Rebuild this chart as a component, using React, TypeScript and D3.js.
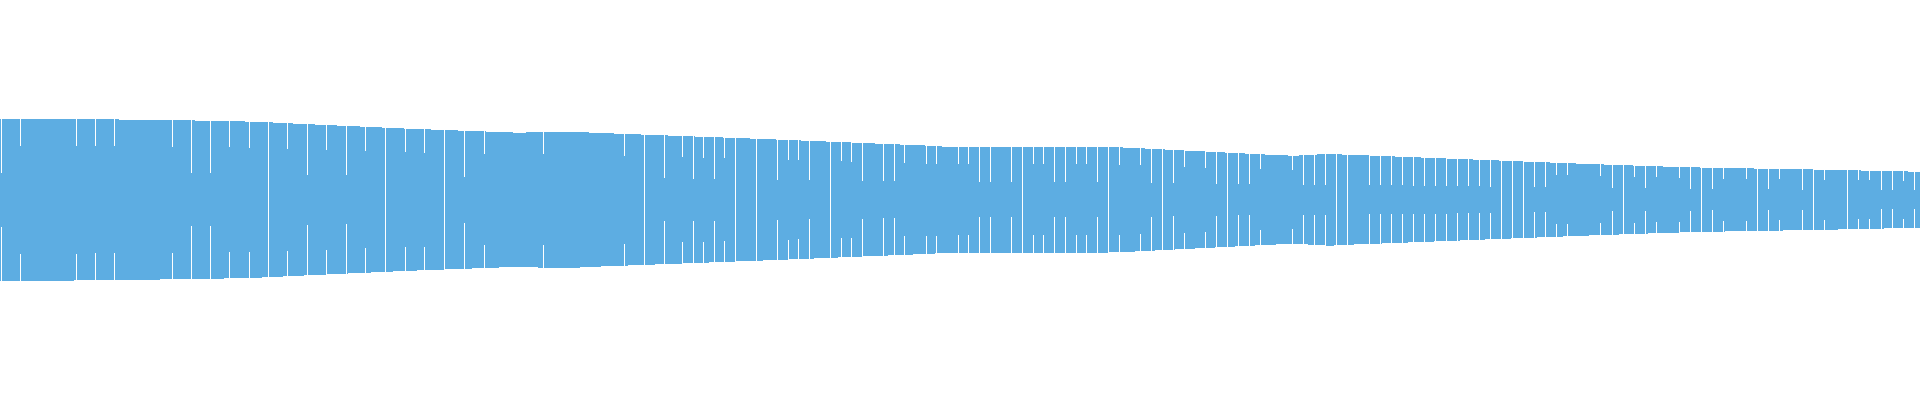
import React, { useEffect, useRef } from 'react';
import * as d3 from 'd3';

// envelope of the band: position along x and half-height (amplitude) read at that position
const envelopeAt = [0, 51, 142, 213, 256, 278, 298, 410, 520, 544, 575, 594, 783, 931, 945, 1100, 1130, 1270, 1294, 1313, 1330, 1346, 1376, 1582, 1670, 1710, 1769, 1827, 1872, 1920];
const envelope = [81, 81, 80, 79, 78, 77, 76, 71, 67, 68, 68, 67, 60, 54, 53, 53, 52, 45, 44, 45, 46, 45, 44, 36, 33, 32, 31, 30, 29, 28];

// boundaries between segments and the level of each (1 = outer ring, 2 = middle, 3 = through the core)
const splitAt = [
  1, 20, 76, 95, 114, 172, 191, 210, 229, 249, 268, 287, 307, 326, 346, 365, 385, 405, 424, 444,
  464, 484, 543, 624, 644, 664, 682, 693, 703, 714, 724, 735, 756, 777, 788, 798, 809, 830, 841, 851,
  862, 883, 894, 904, 926, 936, 958, 968, 979, 990, 1011, 1022, 1033, 1043, 1054, 1065, 1076, 1086, 1097, 1108,
  1119, 1140, 1151, 1162, 1173, 1184, 1205, 1216, 1227, 1238, 1249, 1260, 1292, 1303, 1314, 1325, 1336, 1347, 1369, 1380,
  1391, 1402, 1413, 1424, 1435, 1446, 1457, 1468, 1479, 1490, 1501, 1512, 1523, 1534, 1545, 1556, 1567, 1600, 1612, 1623,
  1634, 1645, 1656, 1679, 1690, 1701, 1712, 1723, 1746, 1757, 1768, 1779, 1802, 1813, 1824, 1847, 1858, 1869, 1881, 1892,
  1903, 1914,
];
const splitLevel = [
  2, 1, 1, 1, 1, 1, 2, 2, 1, 1, 3, 1, 2, 1, 2, 1, 3, 1, 1, 3,
  2, 1, 1, 1, 3, 2, 1, 2, 1, 2, 1, 3, 3, 2, 1, 1, 2, 3, 1, 1,
  2, 2, 2, 1, 1, 1, 1, 1, 2, 2, 2, 3, 1, 1, 2, 2, 1, 1, 2, 3,
  1, 1, 2, 3, 2, 1, 1, 2, 3, 2, 2, 1, 1, 2, 2, 2, 3, 3, 2, 2,
  2, 2, 2, 2, 2, 2, 2, 2, 2, 2, 3, 3, 3, 2, 2, 1, 1, 1, 2, 3,
  1, 2, 1, 1, 2, 3, 2, 1, 1, 3, 2, 1, 2, 3, 1, 3, 1, 1, 2, 2,
  1, 2,
];

const LEVELS = 3;

export default function App() {
  const svgRef = useRef<SVGSVGElement>(null);

  useEffect(() => {
    if (!svgRef.current) return;
    const width = 1920;
    const height = 400;

    const svg = d3.select(svgRef.current);
    svg.selectAll('*').remove();

    const x = d3.scaleLinear().domain([0, 1920]).range([0, width]);
    const y = d3.scaleLinear().domain([-200, 200]).range([height, 0]);
    const ampAt = d3.scaleLinear<number>().domain(envelopeAt).range(envelope).clamp(true);

    const g = svg.append('g').attr('transform', 'translate(0,-0.25)');

    const pts = envelopeAt.map((p, i) => ({ p, a: envelope[i] }));

    g.append('path')
      .datum(pts)
      .attr('fill', '#5dade2')
      .attr('shape-rendering', 'crispEdges')
      .attr('d', d3.area<{ p: number; a: number }>()
        .x(d => x(d.p))
        .y0(d => y(-d.a))
        .y1(d => y(d.a)));

    const splits = splitAt.map((p, i) => {
      const inner = ampAt(p) * (1 - splitLevel[i] / LEVELS);
      return { p, inner };
    });

    // white gaps, cut in from the outer edge down to the level of the boundary
    g.selectAll('.gap-top')
      .data(splits)
      .enter().append('rect')
      .attr('class', 'gap-top')
      .attr('x', d => Math.floor(x(d.p)))
      .attr('y', 0)
      .attr('width', 1)
      .attr('height', d => y(d.inner))
      .attr('fill', '#fff')
      .attr('shape-rendering', 'crispEdges');

    g.selectAll('.gap-bottom')
      .data(splits)
      .enter().append('rect')
      .attr('class', 'gap-bottom')
      .attr('x', d => Math.floor(x(d.p)))
      .attr('y', d => y(-d.inner))
      .attr('width', 1)
      .attr('height', d => height + 1 - y(-d.inner))
      .attr('fill', '#fff')
      .attr('shape-rendering', 'crispEdges');
  }, []);

  return (
    <svg
      ref={svgRef}
      width={1920}
      height={400}
      style={{ position: 'absolute', left: 0, top: 0, display: 'block', background: '#fff' }}
    />
  );
}
